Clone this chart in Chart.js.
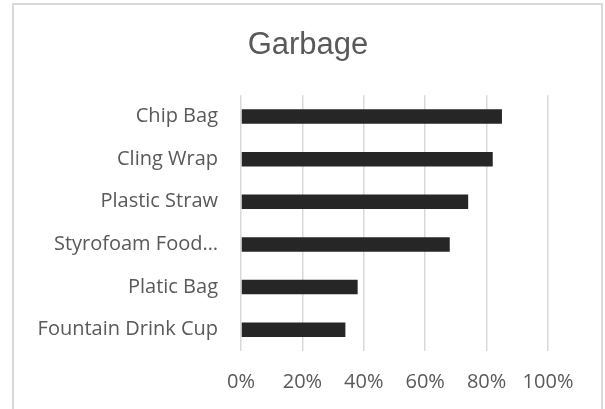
<!DOCTYPE html>
<html>
<head>
<meta charset="utf-8">
<script src="https://cdn.jsdelivr.net/npm/chart.js@4"></script>
<style>
  html, body { margin: 0; padding: 0; background: #ffffff; overflow: hidden; }
  #wrap { position: relative; width: 605px; height: 409px; }
  #frame { position: absolute; left: 12px; top: 3px; width: 591px; height: 430px; border: 2px solid #d9d9d9; box-sizing: border-box; }
  canvas { position: absolute; left: 0; top: 0; }
</style>
</head>
<body>
<div id="wrap">
  <div id="frame"></div>
  <canvas id="c" width="605" height="409"></canvas>
</div>
<script>
const chartTitle = "Garbage";
const categories = ["Chip Bag", "Cling Wrap", "Plastic Straw", "Styrofoam Food…", "Platic Bag", "Fountain Drink Cup"];
const values = [0.85, 0.82, 0.74, 0.68, 0.38, 0.34];
const tickValues = [0, 0.2, 0.4, 0.6, 0.8, 1.0];
const tickLabels = ["0%", "20%", "40%", "60%", "80%", "100%"];

const textColor = "#595959";
const gridColor = "#d9d9d9";

new Chart(document.getElementById("c"), {
  type: "bar",
  data: {
    labels: categories,
    datasets: [{
      data: values,
      backgroundColor: "#262626",
      borderWidth: 0,
      barPercentage: 0.34,
      categoryPercentage: 1.0,
      xAxisID: "x",
      yAxisID: "y"
    }]
  },
  options: {
    indexAxis: "y",
    responsive: false,
    animation: false,
    devicePixelRatio: 1,
    layout: { padding: { left: 11, right: 0, top: 0, bottom: 0 } },
    plugins: {
      legend: { display: false },
      tooltip: { enabled: false },
      title: {
        display: true,
        text: chartTitle,
        color: textColor,
        font: { family: "'Liberation Sans', Arial, sans-serif", size: 31, weight: "normal" },
        padding: { top: 27, bottom: 31 }
      }
    },
    scales: {
      x: {
        min: 0,
        max: 1,
        afterBuildTicks: (scale) => { scale.ticks = tickValues.map(v => ({ value: v })); },
        afterFit: (scale) => { scale.height = 58; },
        grid: { color: gridColor, lineWidth: 1.5, drawTicks: false },
        border: { display: false },
        ticks: {
          padding: 19,
          color: textColor,
          font: { family: "'Open Sans', sans-serif", size: 20 },
          callback: (v, i) => tickLabels[i]
        }
      },
      y: {
        afterFit: (scale) => { scale.width = 230; },
        grid: { display: false, drawTicks: false },
        border: { display: false },
        ticks: {
          padding: 23,
          color: textColor,
          font: { family: "'Open Sans', sans-serif", size: 20 }
        }
      },
      yRight: {
        type: "linear",
        position: "right",
        display: true,
        afterFit: (scale) => { scale.width = 57; },
        grid: { display: false, drawTicks: false },
        border: { display: false },
        ticks: { display: false }
      }
    }
  }
});
</script>
</body>
</html>
